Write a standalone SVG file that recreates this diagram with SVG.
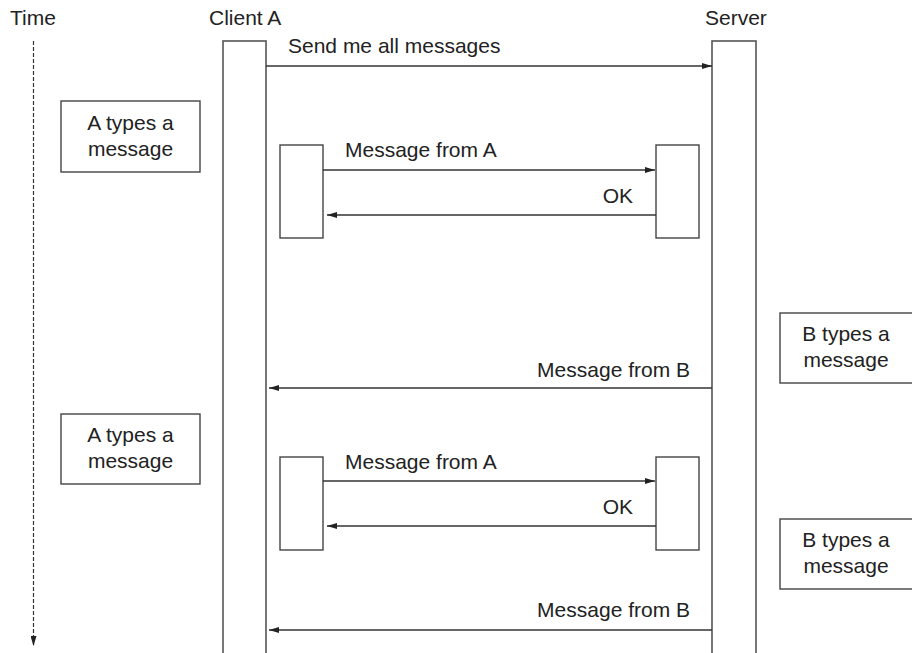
<svg xmlns="http://www.w3.org/2000/svg" width="912" height="653" viewBox="0 0 912 653">
<defs>
<marker id="ah" viewBox="0 0 10 6" refX="10" refY="3" markerWidth="10" markerHeight="6" markerUnits="userSpaceOnUse" orient="auto">
<path d="M0,0 L10,3 L0,6 Z" fill="#222"/>
</marker>
</defs>
<style>
text{font-family:"Liberation Sans",Arial,sans-serif;font-size:21px;fill:#222}
.box{fill:#fff;stroke:#444;stroke-width:1.4}
.life{fill:#fff;stroke:#555;stroke-width:1.6}
.msg{stroke:#333;stroke-width:1.3;fill:none;marker-end:url(#ah)}
.mid{text-anchor:middle}
.end{text-anchor:end}
</style>
<rect width="912" height="653" fill="#fff"/>
<g id="time">
<text x="10" y="25">Time</text>
<line x1="33.5" y1="41" x2="33.5" y2="646" stroke="#333" stroke-width="1.2" stroke-dasharray="4,2" marker-end="url(#ah)"/>
</g>
<g id="clientA">
<text x="209" y="25">Client A</text>
<rect class="life" x="223" y="41" width="43" height="613"/>
</g>
<g id="server">
<text x="705" y="25">Server</text>
<rect class="life" x="712" y="41" width="44" height="613"/>
</g>
<g id="atype1">
<rect class="box" x="61" y="101" width="139" height="71"/>
<text class="mid" x="130.5" y="130">A types a</text>
<text class="mid" x="130.5" y="156">message</text>
</g>
<g id="atype2">
<rect class="box" x="61" y="414" width="139" height="70"/>
<text class="mid" x="130.5" y="442">A types a</text>
<text class="mid" x="130.5" y="468">message</text>
</g>
<g id="btype1">
<rect class="box" x="780" y="313" width="134" height="70"/>
<text class="mid" x="846" y="341">B types a</text>
<text class="mid" x="846" y="367">message</text>
</g>
<g id="btype2">
<rect class="box" x="780" y="519" width="134" height="70"/>
<text class="mid" x="846" y="547">B types a</text>
<text class="mid" x="846" y="573">message</text>
</g>
<g id="act1a"><rect class="box" x="280" y="145" width="43" height="93"/></g>
<g id="act1s"><rect class="box" x="656" y="145" width="43" height="93"/></g>
<g id="act2a"><rect class="box" x="280" y="457" width="43" height="93"/></g>
<g id="act2s"><rect class="box" x="656" y="457" width="43" height="93"/></g>
<g id="connectors">
<line class="msg" x1="266" y1="66" x2="712" y2="66"/>
<text x="288" y="53">Send me all messages</text>
<line class="msg" x1="323" y1="170" x2="655" y2="170"/>
<text x="345" y="157">Message from A</text>
<line class="msg" x1="656" y1="215" x2="327" y2="215"/>
<text class="end" x="633" y="203">OK</text>
<line class="msg" x1="712" y1="388" x2="269" y2="388"/>
<text class="end" x="690" y="377">Message from B</text>
<line class="msg" x1="323" y1="481" x2="655" y2="481"/>
<text x="345" y="469">Message from A</text>
<line class="msg" x1="656" y1="526" x2="327" y2="526"/>
<text class="end" x="633" y="514">OK</text>
<line class="msg" x1="712" y1="630" x2="269" y2="630"/>
<text class="end" x="690" y="617">Message from B</text>
</g>
</svg>
